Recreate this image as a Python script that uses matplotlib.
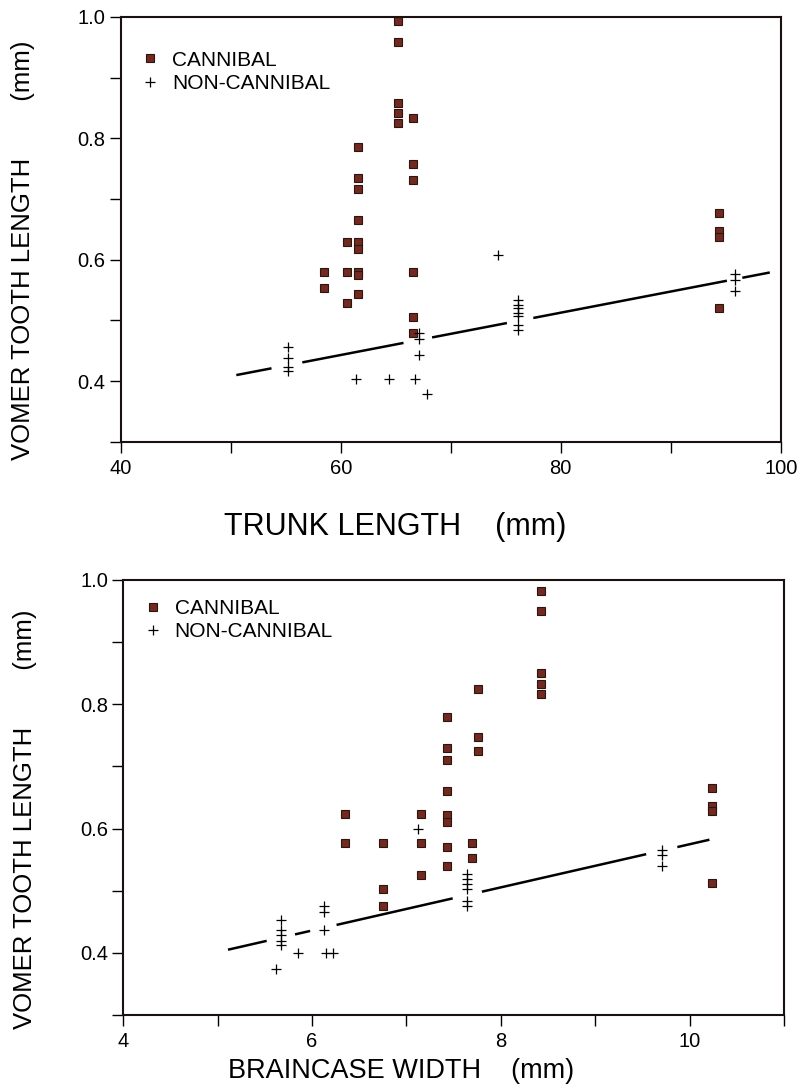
"""Vomer tooth length against trunk length and braincase width,
cannibal vs. non-cannibal morphs, with the fitted line for the non-cannibals."""
import numpy as np
import matplotlib.pyplot as plt

plt.rcParams["font.family"] = ["Liberation Sans", "DejaVu Sans"]

SQUARE_COLOR = "#72291f"

# --- top panel: trunk length (mm) ---
trunk_cannibal_x = [65.2, 65.2, 65.2, 65.2, 65.2,
                    66.6, 66.6, 66.6, 66.6, 66.6, 66.6,
                    61.6, 61.6, 61.6, 61.6, 61.6, 61.6, 61.6, 61.6, 61.6,
                    60.6, 60.6, 60.6,
                    58.5, 58.5,
                    94.4, 94.4, 94.4, 94.4]
trunk_cannibal_y = [0.993, 0.959, 0.859, 0.841, 0.825,
                    0.833, 0.757, 0.731, 0.580, 0.505, 0.480,
                    0.785, 0.734, 0.716, 0.666, 0.630, 0.618, 0.579, 0.575, 0.544,
                    0.630, 0.579, 0.528,
                    0.579, 0.553,
                    0.677, 0.648, 0.638, 0.521]
trunk_non_x = [55.2, 55.2, 55.2, 55.2,
               61.4, 64.4, 66.7,
               67.1, 67.1, 67.1,
               67.8, 74.3,
               76.1, 76.1, 76.1, 76.1, 76.1, 76.1, 76.1,
               95.8, 95.8, 95.8]
trunk_non_y = [0.456, 0.438, 0.423, 0.416,
               0.403, 0.403, 0.403,
               0.479, 0.470, 0.443,
               0.379, 0.608,
               0.533, 0.526, 0.520, 0.513, 0.507, 0.492, 0.484,
               0.577, 0.567, 0.549]
trunk_fit_x = [50.5, 99.0]
trunk_fit_y = [0.410, 0.579]
# the printed line is broken where it passes the crosses
trunk_fit_pieces = [(50.5, 53.7), (56.5, 65.7), (68.3, 75.1), (77.5, 95.1), (96.5, 99.0)]

# --- bottom panel: braincase width (mm) ---
brain_cannibal_x = [6.35, 6.35,
                    6.75, 6.75, 6.75,
                    7.15, 7.15, 7.15,
                    7.43, 7.43, 7.43, 7.43, 7.43, 7.43, 7.43, 7.43,
                    7.70, 7.70,
                    7.76, 7.76, 7.76,
                    8.43, 8.43, 8.43, 8.43, 8.43,
                    10.24, 10.24, 10.24, 10.24]
brain_cannibal_y = [0.624, 0.576,
                    0.576, 0.502, 0.476,
                    0.624, 0.576, 0.526,
                    0.779, 0.729, 0.710, 0.660, 0.621, 0.610, 0.571, 0.540,
                    0.576, 0.553,
                    0.824, 0.748, 0.724,
                    0.982, 0.950, 0.850, 0.832, 0.816,
                    0.666, 0.637, 0.629, 0.513]
brain_non_x = [5.67, 5.67, 5.67, 5.67, 5.67,
               5.62, 5.85,
               6.13, 6.13, 6.13,
               6.15, 6.22,
               7.12,
               7.64, 7.64, 7.64, 7.64, 7.64, 7.64,
               9.71, 9.71, 9.71]
brain_non_y = [0.453, 0.436, 0.428, 0.419, 0.412,
               0.374, 0.400,
               0.476, 0.465, 0.437,
               0.400, 0.400,
               0.600,
               0.527, 0.519, 0.510, 0.502, 0.484, 0.476,
               0.566, 0.558, 0.539]
brain_fit_x = [5.11, 10.21]
brain_fit_y = [0.405, 0.582]
brain_fit_pieces = [(5.11, 5.52), (5.82, 5.98), (6.26, 7.49), (7.80, 9.54), (9.87, 10.21)]

Y_LABEL = "VOMER TOOTH LENGTH        (mm)"


def draw_panel(ax, cx, cy, nx, ny, fit_x, fit_y, pieces, xlim, xmajor, xminor,
               xlabel, xlabel_size, xlabel_pos, legend_anchor):
    ax.plot(cx, cy, ls="none", marker="s", ms=6, mfc=SQUARE_COLOR,
            mec="#2a1510", mew=0.8, label="CANNIBAL")
    ax.plot(nx, ny, ls="none", marker="+", ms=6.5, mec="black", mew=0.9,
            label="NON-CANNIBAL")
    for a, b in pieces:
        xs = np.array([a, b])
        ax.plot(xs, np.interp(xs, fit_x, fit_y), color="black", lw=1.8,
                solid_capstyle="butt")

    ax.set_xlim(*xlim)
    ax.set_ylim(0.3, 1.0)
    ax.set_xticks(xmajor)
    ax.set_xticks(xminor, minor=True)
    ax.set_yticks([0.4, 0.6, 0.8, 1.0])
    ax.set_yticks([0.3, 0.5, 0.7, 0.9], minor=True)
    ax.set_yticklabels(["0.4", "0.6", "0.8", "1.0"])
    ax.tick_params(which="both", direction="out", length=8, width=1.0,
                   labelsize=14.5, color="black")
    ax.tick_params(axis="x", pad=4)
    ax.tick_params(axis="y", pad=3)
    for side in ax.spines.values():
        side.set_linewidth(1.5)
        side.set_color("#1a1010")

    ax.set_xlabel(xlabel, fontsize=xlabel_size)
    ax.xaxis.set_label_coords(*xlabel_pos)
    ax.set_ylabel(Y_LABEL, fontsize=18.5)
    ax.yaxis.set_label_coords(-0.13, 0.45)

    ax.legend(loc="upper left", bbox_to_anchor=legend_anchor, frameon=False,
              fontsize=15, handlelength=0.9, handletextpad=0.6,
              labelspacing=0.2, borderaxespad=0)


def main():
    fig = plt.figure(figsize=(8, 10.91), dpi=100)
    ax_top = fig.add_axes([0.151, 0.595, 0.825, 0.3895])
    ax_bot = fig.add_axes([0.154, 0.0697, 0.826, 0.3987])

    draw_panel(ax_top, trunk_cannibal_x, trunk_cannibal_y, trunk_non_x, trunk_non_y,
               trunk_fit_x, trunk_fit_y, trunk_fit_pieces,
               (40, 100), [40, 60, 80, 100], [50, 70, 90],
               "TRUNK LENGTH    (mm)", 22, (0.415, -0.165), (0.018, 0.94))
    draw_panel(ax_bot, brain_cannibal_x, brain_cannibal_y, brain_non_x, brain_non_y,
               brain_fit_x, brain_fit_y, brain_fit_pieces,
               (4, 11), [4, 6, 8, 10], [5, 7, 9, 11],
               "BRAINCASE WIDTH    (mm)", 19.5, (0.42, -0.1), (0.018, 0.975))

    fig.savefig("out.png", dpi=100)


if __name__ == "__main__":
    main()
